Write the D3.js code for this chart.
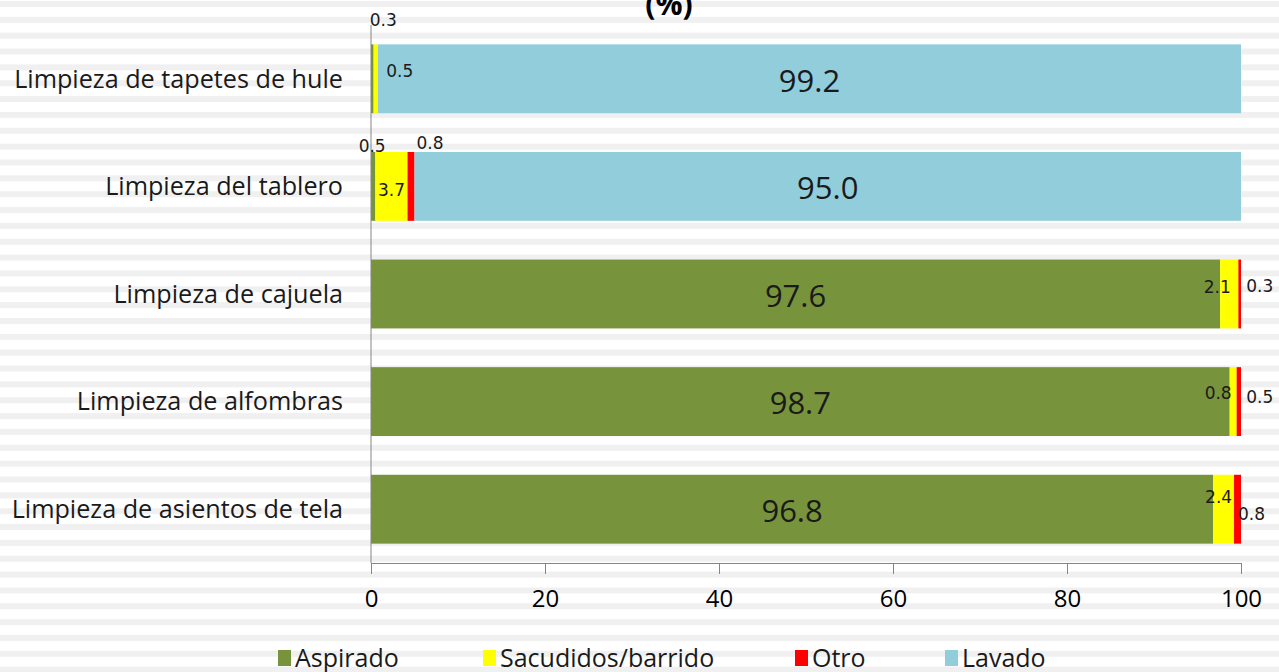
<!DOCTYPE html>
<html>
<head>
<meta charset="utf-8">
<script src="https://cdn.jsdelivr.net/npm/d3@7"></script>
<style>
  body { margin: 0; background: #fff; }
  svg { display: block; }
</style>
</head>
<body>
<div id="vis"></div>
<script>
const FRAME_WIDTH = 1279;
const FRAME_HEIGHT = 672;

// data
const categories = ["Limpieza de tapetes de hule", "Limpieza del tablero",
                    "Limpieza de cajuela", "Limpieza de alfombras",
                    "Limpieza de asientos de tela"];
const seriesNames = ["Aspirado", "Sacudidos/barrido", "Otro", "Lavado"];
const aspirado = [0.3, 0.5, 97.6, 98.7, 96.8];
const sacudidos = [0.5, 3.7, 2.1, 0.8, 2.4];
const otro = [0, 0.8, 0.3, 0.5, 0.8];
const lavado = [99.2, 95.0, 0, 0, 0];
const xTicks = [0, 20, 40, 60, 80, 100];

const colors = ["#77933C", "#FFFF00", "#FF0000", "#92CDDC"];

// hand placed label nudges (Excel style), [dx, dy] per category / series
const labelNudge = [
  [[11, -59], [24, -8], null, [0, 2]],
  [[-1, -40], [0, 4], [19, -43], [0, 2]],
  [[0, 2], [-12, -7], [20, -8], null],
  [[0, 2], [-15, -9], [21, -5], null],
  [[0, 2], [-5, -12], [14, 5], null]
];

const rows = categories.map((c, i) => ({
  cat: c,
  "Aspirado": aspirado[i],
  "Sacudidos/barrido": sacudidos[i],
  "Otro": otro[i],
  "Lavado": lavado[i]
}));

const svg = d3.select("#vis")
  .append("svg")
    .attr("width", FRAME_WIDTH)
    .attr("height", FRAME_HEIGHT);

// striped background
const pat = svg.append("defs").append("pattern")
    .attr("id", "stripes")
    .attr("patternUnits", "userSpaceOnUse")
    .attr("width", 20)
    .attr("height", 15.85);
pat.append("rect").attr("width", 20).attr("height", 15.85).attr("fill", "#ffffff");
pat.append("rect").attr("y", 1).attr("width", 20).attr("height", 6).attr("fill", "#f0f0f0");

svg.append("rect")
    .attr("width", FRAME_WIDTH)
    .attr("height", FRAME_HEIGHT)
    .attr("fill", "url(#stripes)");

const X_SCALE = d3.scaleLinear().domain([0, 100]).range([371, 1241]);
const Y_SCALE = d3.scaleBand()
    .domain(categories)
    .range([25, 563])
    .paddingInner(0.36)
    .paddingOuter(0.18);

const stacked = d3.stack().keys(seriesNames)(rows);

// bars
const groups = svg.selectAll(".series")
  .data(stacked)
  .enter()
  .append("g")
    .attr("class", "series")
    .attr("fill", (d, i) => colors[i]);

groups.selectAll("rect")
  .data(d => d)
  .enter()
  .append("rect")
    .attr("x", d => X_SCALE(d[0]))
    .attr("y", d => Y_SCALE(d.data.cat))
    .attr("width", d => X_SCALE(d[1]) - X_SCALE(d[0]))
    .attr("height", Y_SCALE.bandwidth());

// x axis
const xAxis = svg.append("g")
    .attr("transform", "translate(0,563)")
    .call(d3.axisBottom(X_SCALE).tickValues(xTicks).tickSize(11).tickSizeOuter(0).tickPadding(16));
xAxis.select(".domain").attr("stroke", "#868686");
xAxis.selectAll(".tick line").attr("stroke", "#868686");
xAxis.selectAll("text")
    .attr("font-family", "Open Sans")
    .attr("font-size", "24px")
    .attr("fill", "#000");

// category axis line
svg.append("line")
    .attr("x1", X_SCALE(0)).attr("x2", X_SCALE(0))
    .attr("y1", 25).attr("y2", 563)
    .attr("stroke", "#868686");

// category labels
svg.selectAll(".cat")
  .data(categories)
  .enter()
  .append("text")
    .attr("x", 343)
    .attr("y", d => Y_SCALE(d) + Y_SCALE.bandwidth() / 2)
    .attr("dy", "0.35em")
    .attr("text-anchor", "end")
    .attr("font-family", "Open Sans")
    .attr("font-size", "25.2px")
    .attr("fill", "#1a1a1a")
    .text(d => d);

// data labels
stacked.forEach((s, si) => {
  s.forEach((d, ci) => {
    const nudge = labelNudge[ci][si];
    if (!nudge) return;
    const big = (d[1] - d[0]) > 50;
    svg.append("text")
      .attr("x", (X_SCALE(d[0]) + X_SCALE(d[1])) / 2 + nudge[0])
      .attr("y", Y_SCALE(d.data.cat) + Y_SCALE.bandwidth() / 2 + nudge[1])
      .attr("dy", "0.35em")
      .attr("text-anchor", "middle")
      .attr("font-family", big ? "Open Sans" : "DejaVu Sans")
      .attr("font-size", big ? "31px" : "17px")
      .attr("fill", "#1a1a1a")
      .text(d3.format(".1f")(d[1] - d[0]));
  });
});

// title (only the last line shows)
svg.append("text")
    .attr("x", 669)
    .attr("y", 15)
    .attr("text-anchor", "middle")
    .attr("font-family", "Open Sans")
    .attr("font-weight", "bold")
    .attr("font-size", "30px")
    .text("(%)");

// legend
const legendX = [278, 483, 795, 945];
const legend = svg.selectAll(".legend")
  .data(seriesNames)
  .enter()
  .append("g")
    .attr("transform", (d, i) => "translate(" + legendX[i] + ",650)");
legend.append("rect")
    .attr("width", 13)
    .attr("height", 16)
    .attr("fill", (d, i) => colors[i]);
legend.append("text")
    .attr("x", 17)
    .attr("y", 8)
    .attr("dy", "0.36em")
    .attr("font-family", "Open Sans")
    .attr("font-size", "25px")
    .attr("fill", "#1a1a1a")
    .text(d => d);
</script>
</body>
</html>
